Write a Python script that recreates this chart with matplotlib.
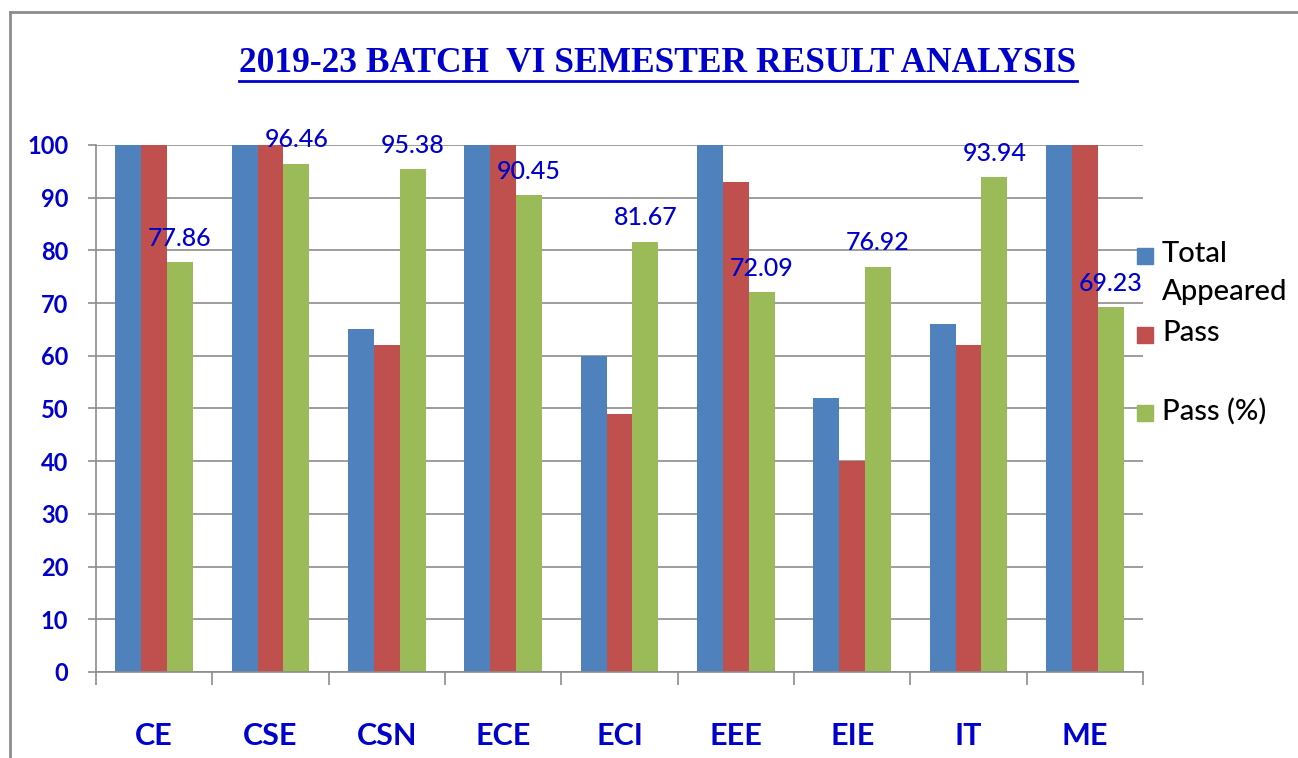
import matplotlib.pyplot as plt
import numpy as np
from matplotlib.patches import Rectangle
from matplotlib.lines import Line2D

# values (bars above 100 are cut off at the top of the axis)
branches = ['CE', 'CSE', 'CSN', 'ECE', 'ECI', 'EEE', 'EIE', 'IT', 'ME']
total_appeared = [140, 113, 65, 157, 60, 129, 52, 66, 156]
passed = [109, 109, 62, 142, 49, 93, 40, 62, 108]
pass_pct = [77.86, 96.46, 95.38, 90.45, 81.67, 72.09, 76.92, 93.94, 69.23]
series_names = ['Total\nAppeared', 'Pass', 'Pass (%)']
colors = ['#4F81BD', '#C0504D', '#9BBB59']

blue_txt = '#0000CC'
grid_col = '#8C8C8C'

if __name__ == "__main__":
    fig = plt.figure(figsize=(12.98, 7.58), dpi=100)
    ax = fig.add_axes([0.074, 0.1135, 0.8066, 0.6953])

    x = np.arange(len(branches))
    w = 0.222
    for i, vals in enumerate([total_appeared, passed, pass_pct]):
        ax.bar(x + (i - 1) * w, vals, w, color=colors[i], zorder=3)

    # data labels on the pass % bars
    for xi, v in zip(x, pass_pct):
        ax.annotate('%.2f' % v, (xi + w, v), xytext=(0, 17), textcoords='offset points',
                    ha='center', va='center', color=blue_txt, fontsize=18,
                    family='Lato', fontweight='medium', zorder=5)

    ax.set_xlim(-0.5, len(branches) - 0.5)
    ax.set_ylim(0, 100)
    ax.set_yticks(np.arange(0, 101, 10))
    ax.grid(axis='y', color=grid_col, linewidth=1.2, zorder=0)
    for s in ['top', 'right']:
        ax.spines[s].set_visible(False)
    for s in ['left', 'bottom']:
        ax.spines[s].set_color(grid_col)
        ax.spines[s].set_linewidth(1.2)
    ax.spines['bottom'].set_zorder(4)

    ax.tick_params(axis='y', length=6, width=1.2, color=grid_col, pad=14,
                   labelcolor=blue_txt, labelsize=17)
    for lab in ax.get_yticklabels():
        lab.set_fontweight('bold')
        lab.set_family('Lato')

    ax.set_xticks(x)
    ax.set_xticklabels(branches, fontsize=22, fontweight='bold', color=blue_txt, family='Lato')
    ax.set_xticks(np.arange(-0.5, len(branches), 1), minor=True)
    ax.tick_params(axis='x', which='major', length=0, pad=36)
    ax.tick_params(axis='x', which='minor', length=9, width=1.2, color=grid_col)

    # legend drawn by hand to keep the Excel spacing
    leg_y = [256, 335, 413]
    for c, name, yy in zip(colors, series_names, leg_y):
        fig.patches.append(Rectangle((1137 / 1298, 1 - (yy + 8) / 758), 16 / 1298, 16 / 758,
                                     transform=fig.transFigure, color=c))
        fig.text(1162 / 1298, 1 - (yy - 15) / 758, name, fontsize=21, family='Lato',
                 fontweight='medium', color='black', va='top', ha='left', linespacing=1.55)

    # chart area border
    fig.add_artist(Line2D([10 / 1298, 1.0], [1 - 12 / 758] * 2, color='#8C8C8C', lw=2,
                          transform=fig.transFigure))
    fig.add_artist(Line2D([10 / 1298] * 2, [0, 1 - 12 / 758], color='#8C8C8C', lw=2,
                          transform=fig.transFigure))

    title = fig.text(658 / 1298, 1 - 63 / 758, '2019-23 BATCH  VI SEMESTER RESULT ANALYSIS',
                     fontsize=25.5, fontweight='bold', family='Liberation Serif',
                     color=blue_txt, ha='center', va='center')
    fig.canvas.draw()
    bb = title.get_window_extent()
    uy = (bb.y0 - 1) / fig.bbox.height
    fig.add_artist(Line2D([bb.x0 / fig.bbox.width, bb.x1 / fig.bbox.width], [uy, uy],
                          color=blue_txt, lw=2, transform=fig.transFigure))

    fig.savefig('out.png', dpi=100)
